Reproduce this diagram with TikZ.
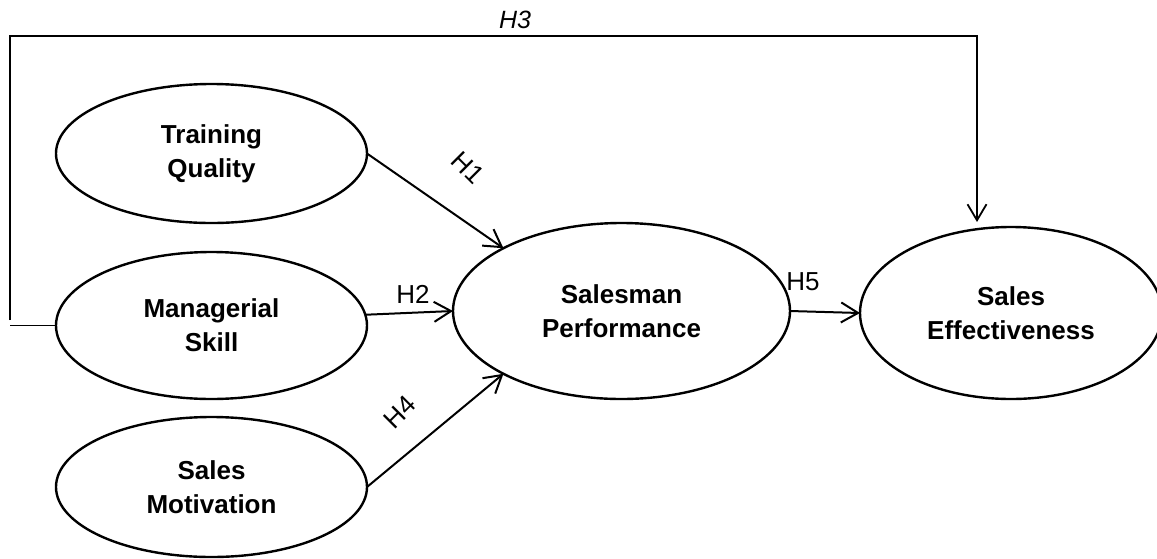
\documentclass[tikz,border=0pt]{standalone}
\usepackage{fontspec}
\setmainfont{Liberation Sans}
\usetikzlibrary{shapes.geometric,arrows.meta}
\tikzset{
  ell/.style={ellipse, draw, line width=2.4pt, inner sep=0pt, outer sep=0pt, align=center,
    font=\bfseries\fontsize{26}{34}\selectfont},
  conn/.style={line width=2pt, -{Straight Barb[length=17pt,width=20pt]}},
  hlab/.style={font=\fontsize{26}{30}\selectfont, inner sep=0pt},
  h3line/.style={line width=1.8pt}
}
\begin{document}
\begin{tikzpicture}[x=1pt,y=-1pt]
\useasboundingbox (0,0) rectangle (1157,558);
% nodes
\node[ell, minimum width=311pt, minimum height=139pt] (tq) at (211.5,153.5) {Training\\Quality};
\node[ell, minimum width=311pt, minimum height=147pt] (ms) at (211.5,325.5) {Managerial\\Skill};
\node[ell, minimum width=311pt, minimum height=140pt] (sm) at (211.5,487) {Sales\\Motivation};
\node[ell, minimum width=337pt, minimum height=176pt] (sp) at (621.5,311) {Salesman\\Performance};
\node[ell, minimum width=302pt, minimum height=172pt] (se) at (1011,313) {Sales\\Effectiveness};
% connectors
\draw[conn] (tq.east) -- (sp.152);
\draw[conn] (ms.4) -- (sp.west);
\draw[conn] (sm.east) -- (sp.208);
\draw[conn] (sp.east) -- (se.west);
% H3 path
\coordinate (h3a) at (10,320);
\coordinate (h3b) at (10,36);
\coordinate (h3c) at (977,36);
\draw[h3line] (ms.west) -- (h3a |- ms.west);
\draw[h3line, -{Straight Barb[length=16pt,width=19pt]}, shorten >=5pt] (h3a) -- (h3b) -- (h3c) -- (h3c |- se.north);
% labels
\node[hlab, rotate=-45] (l1) at (468,168) {H1};
\node[hlab] (l2) at (413,294) {H2};
\node[hlab, font=\itshape\fontsize{25}{28}\selectfont] (l3) at (515,20) {H3};
\node[hlab, rotate=45] (l4) at (400,412) {H4};
\node[hlab] (l5) at (803,282) {H5};
\end{tikzpicture}
\end{document}
